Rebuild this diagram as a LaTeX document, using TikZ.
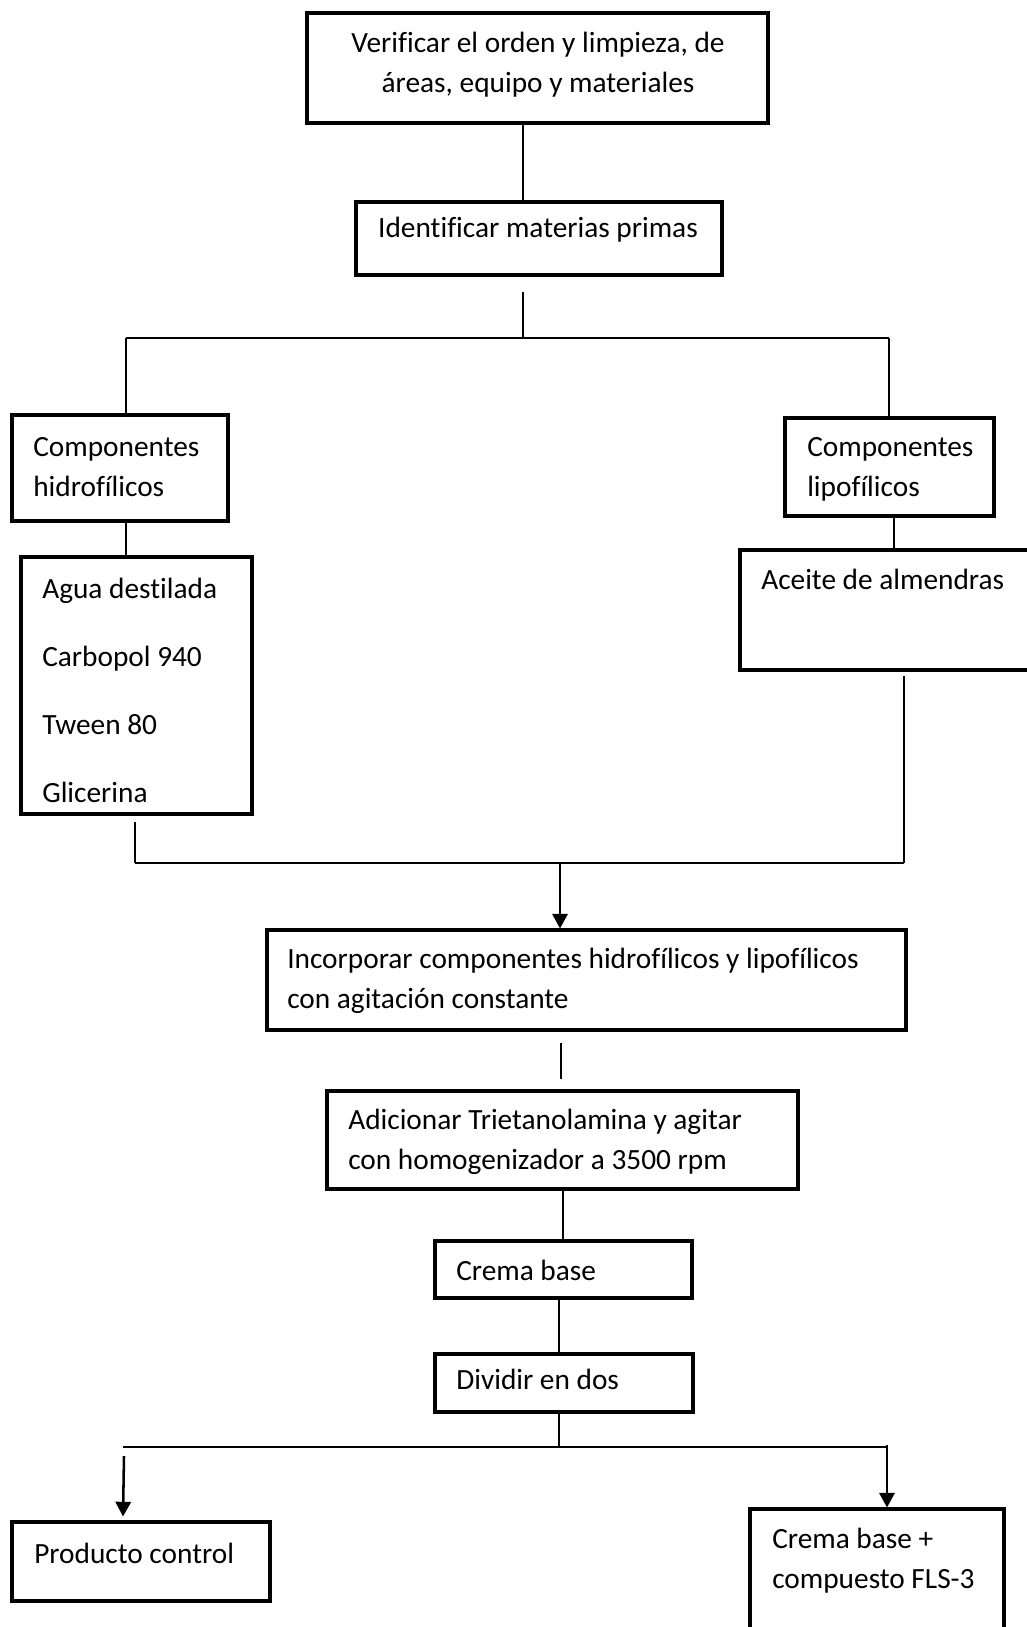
\documentclass[tikz,border=0pt]{standalone}
\usepackage{fontspec}
\setmainfont{Carlito}[Ligatures={NoCommon}]
\usetikzlibrary{fit,arrows.meta}
\begin{document}
\begin{tikzpicture}[x=0.75pt,y=-0.75pt,
  box/.style={draw, line width=2.3pt, inner sep=0pt, rectangle},
  lbl/.style={anchor=west, inner sep=0pt, align=left, font=\fontsize{22}{30}\selectfont},
  ctr/.style={inner sep=0pt, align=center, font=\fontsize{22}{30}\selectfont},
  link/.style={line width=1pt},
  flow/.style={line width=1.9pt, -{Triangle[length=11pt,width=11.5pt]}}]
\fill[white] (0,0) rectangle (1026,1627);
\useasboundingbox (0,0) rectangle (1026,1627);

% boxes
\node[box, fit={(307,13)(768,123)}] (verif) {};
\node[ctr] (verift) at (538,65) {Verificar el orden y limpieza, de\\áreas, equipo y materiales};

\node[box, fit={(356,202)(722,275)}] (ident) {};
\node[ctr] (identt) at (538,230) {Identificar materias primas};

\node[box, fit={(12,415)(228,521)}] (hidro) {};
\node[lbl] (hidrot) at (33,467) {Componentes\\hidrofílicos};

\node[box, fit={(21,557)(252,814)}] (agua) {};
\node[lbl, font=\fontsize{22}{51}\selectfont] (aguat) at (42,690) {Agua destilada\\Carbopol 940\\Tween 80\\Glicerina};

\node[box, fit={(785,418)(994,516)}] (lipo) {};
\node[lbl] (lipot) at (807,469) {Componentes\\lipofílicos};

\node[box, fit={(740,550)(1032,670)}] (aceite) {};
\node[lbl] (aceitet) at (761,579) {Aceite de almendras};

\node[box, fit={(267,930)(906,1030)}] (incorp) {};
\node[lbl] (incorpt) at (287,981) {Incorporar componentes hidrofílicos y lipofílicos\\con agitación constante};

\node[box, fit={(327,1091)(798,1189)}] (adic) {};
\node[lbl] (adict) at (348,1142) {Adicionar Trietanolamina y agitar\\con homogenizador a 3500 rpm};

\node[box, fit={(435,1241)(692,1298)}] (crema) {};
\node[lbl] (cremat) at (456,1270) {Crema base};

\node[box, fit={(435,1354)(693,1412)}] (dividir) {};
\node[lbl] (dividirt) at (456,1379) {Dividir en dos};

\node[box, fit={(12,1522)(270,1601)}] (control) {};
\node[lbl] (controlt) at (34,1553) {Producto control};

\node[box, fit={(750,1509)(1004,1645)}] (fls) {};
\node[lbl] (flst) at (772,1561) {Crema base +\\compuesto FLS-3};

% junction points
\coordinate (j1) at (523,338);
\coordinate (jl) at (126,338);
\coordinate (jr) at (889,338);
\coordinate (jr2) at (894,0);
\coordinate (ml) at (135,863);
\coordinate (mr) at (904,863);
\coordinate (mc) at (560,863);
\coordinate (g1) at (561,1043);
\coordinate (g2) at (561,1079);
\coordinate (g3) at (563,0);
\coordinate (g4) at (559,0);
\coordinate (b0) at (559,1447);
\coordinate (bl) at (123,1447);
\coordinate (br) at (887,1447);

% connectors
\draw[link] (verif.south -| j1) -- (ident.north -| j1);
\draw[link] (ident.south -| j1) ++(0,15) -- (j1);
\draw[link] (jl) -- (jr);
\draw[link] (jl) -- (hidro.north -| jl);
\draw[link] (jr) -- (lipo.north -| jr);
\draw[link] (hidro.south -| jl) -- (agua.north -| jl);
\draw[link] (lipo.south -| jr2) -- (aceite.north -| jr2);
\draw[link] (agua.south -| ml) ++(0,6) -- (ml);
\draw[link] (aceite.south -| mr) ++(0,4) -- (mr);
\draw[link] (ml) -- (mr);
\draw[flow] (mc) -- (incorp.north -| mc);
\draw[link] (g1) -- (g2);
\draw[link] (adic.south -| g3) -- (crema.north -| g3);
\draw[link] (crema.south -| g4) -- (dividir.north -| g4);
\draw[link] (dividir.south -| b0) -- (b0);
\draw[link] (bl) -- (br);
\draw[flow] (bl) ++(1,9) -- ([yshift=3pt]control.north -| bl);
\draw[flow] (br) ++(0,-2) -- (fls.north -| br);
\end{tikzpicture}
\end{document}
